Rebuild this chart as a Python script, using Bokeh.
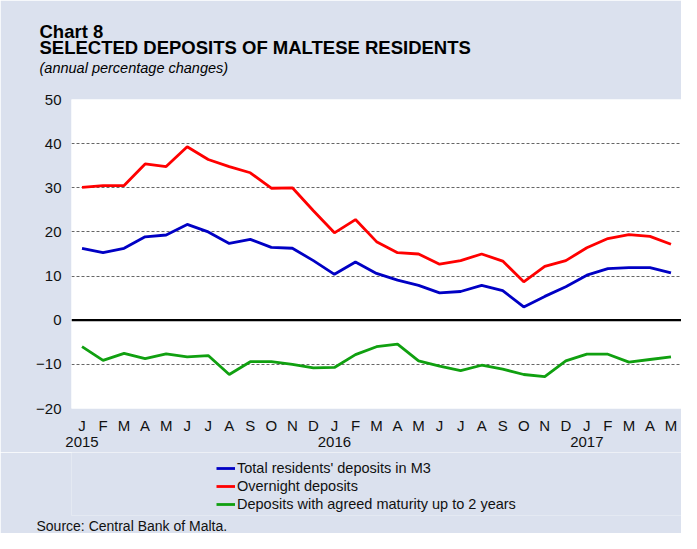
from bokeh.plotting import figure
from bokeh.layouts import column
from bokeh.models import (FixedTicker, LinearAxis, Legend, LegendItem, Span, Range1d, Title)
from bokeh.embed import file_html
from bokeh.resources import INLINE

# ---- data ----
month_labels = ["J", "F", "M", "A", "M", "J", "J", "A", "S", "O", "N", "D",
                "J", "F", "M", "A", "M", "J", "J", "A", "S", "O", "N", "D",
                "J", "F", "M", "A", "M"]
year_labels = ["2015", "2016", "2017"]
year_positions = [0, 12, 24]
total_m3 = [16.3, 15.3, 16.3, 18.9, 19.3, 21.7, 20.0, 17.4, 18.3, 16.5, 16.3, 13.5,
            10.4, 13.2, 10.6, 9.1, 7.9, 6.2, 6.5, 7.9, 6.7, 3.0, 5.4, 7.6,
            10.2, 11.7, 11.9, 11.9, 10.7]
overnight = [30.1, 30.5, 30.5, 35.4, 34.8, 39.3, 36.4, 34.8, 33.4, 29.9, 30.0, 24.8,
             19.8, 22.8, 17.8, 15.3, 15.0, 12.7, 13.5, 15.0, 13.4, 8.7, 12.2, 13.5,
             16.4, 18.5, 19.4, 19.0, 17.2]
agreed = [-6.0, -9.1, -7.5, -8.7, -7.6, -8.3, -8.0, -12.3, -9.4, -9.4, -10.0, -10.8,
          -10.7, -7.8, -6.0, -5.4, -9.2, -10.4, -11.4, -10.2, -11.1, -12.3, -12.8, -9.2,
          -7.7, -7.7, -9.5, -8.9, -8.3]
y_ticks = [-20, -10, 0, 10, 20, 30, 40, 50]
series_names = ["Total residents' deposits in M3", "Overnight deposits",
                "Deposits with agreed maturity up to 2 years"]
series_colors = ["#0000c4", "#ff0000", "#10a010"]
chart_number = "Chart 8"
chart_title = "SELECTED DEPOSITS OF MALTESE RESIDENTS"
chart_subtitle = "(annual percentage changes)"
source_note = "Source: Central Bank of Malta."

BG = "#dbe1ee"
FONT = "Liberation Sans"
TXT = "#111111"
W = 681

xs = list(range(len(month_labels)))

p = figure(width=W, height=452, output_backend="svg", toolbar_location=None, title=None,
           x_range=Range1d(-0.5, len(month_labels) - 0.5), y_range=Range1d(-20, 50),
           min_border_left=71, min_border_right=0, min_border_top=99, min_border_bottom=44)
p.background_fill_color = "white"
p.border_fill_color = BG
p.outline_line_color = None

# y axis
p.yaxis.ticker = FixedTicker(ticks=y_ticks)
p.yaxis.axis_line_color = None
p.yaxis.major_tick_line_color = None
p.yaxis.major_tick_out = 0
p.yaxis.major_tick_in = 0
p.yaxis.minor_tick_line_color = None
p.yaxis.major_label_standoff = 10
p.yaxis.major_label_text_font = FONT
p.yaxis.major_label_text_font_size = "15px"
p.yaxis.major_label_text_color = TXT

# x axis (months)
p.xaxis.ticker = FixedTicker(ticks=xs)
p.xaxis.major_label_overrides = {i: m for i, m in enumerate(month_labels)}
p.xaxis.axis_line_color = None
p.xaxis.major_tick_line_color = None
p.xaxis.major_tick_out = 0
p.xaxis.major_tick_in = 0
p.xaxis.minor_tick_line_color = None
p.xaxis.major_label_standoff = 8
p.xaxis.major_label_text_font = FONT
p.xaxis.major_label_text_font_size = "15px"
p.xaxis.major_label_text_color = TXT

# year axis
year_axis = LinearAxis(ticker=FixedTicker(ticks=year_positions),
                       major_label_overrides={pos: y for pos, y in zip(year_positions, year_labels)})
year_axis.axis_line_color = None
year_axis.major_tick_line_color = None
year_axis.major_tick_out = 0
year_axis.major_tick_in = 0
year_axis.minor_tick_line_color = None
year_axis.major_label_standoff = 0
year_axis.major_label_text_font = FONT
year_axis.major_label_text_font_size = "15px"
year_axis.major_label_text_color = TXT
p.add_layout(year_axis, "below")

# grid
p.xgrid.grid_line_color = None
p.ygrid.ticker = FixedTicker(ticks=[t for t in y_ticks if t != 0])
p.ygrid.grid_line_color = "#666666"
p.ygrid.grid_line_dash = "3 2"
p.ygrid.grid_line_width = 1

p.add_layout(Span(location=0, dimension="width", line_color="black", line_width=2.2))

for vals, col in zip([total_m3, overnight, agreed], series_colors):
    p.line(xs, vals, line_color=col, line_width=2.8)

# titles (added nearest-first): blank spacer, subtitle, title, chart number
p.add_layout(Title(text=" ", align="left", standoff=11, text_font=FONT,
                   text_font_size="10px", text_color=BG), "above")
p.add_layout(Title(text=chart_subtitle, align="left", offset=-32, standoff=0,
                   text_font=FONT, text_font_size="14.5px", text_font_style="italic",
                   text_color="black"), "above")
p.add_layout(Title(text=chart_title, align="left", offset=-32, standoff=-1,
                   text_font=FONT, text_font_size="18.5px", text_font_style="bold",
                   text_color="black"), "above")
p.add_layout(Title(text=chart_number, align="left", offset=-32, standoff=-13,
                   text_font=FONT, text_font_size="18.5px", text_font_style="bold",
                   text_color="black"), "above")

# ---- legend & source strip ----
H2 = 81
p2 = figure(width=W, height=H2, output_backend="svg", toolbar_location=None, title=None,
            x_range=p.x_range, y_range=Range1d(1000, 1001),
            x_axis_type=None, y_axis_type=None, min_border=0)
p2.background_fill_color = BG
p2.border_fill_color = BG
p2.outline_line_color = None
p2.grid.visible = False

items = []
for name, vals, col in zip(series_names, [total_m3, overnight, agreed], series_colors):
    r = p2.line(xs, vals, line_color=col, line_width=2.8)
    items.append(LegendItem(label=name, renderers=[r]))

legend = Legend(items=items, location=(145, 3), orientation="vertical")
legend.background_fill_alpha = 0
legend.border_line_color = None
legend.padding = 0
legend.margin = 0
legend.spacing = 2
legend.glyph_width = 19
legend.glyph_height = 16
legend.label_height = 16
legend.label_standoff = 2
legend.label_text_font = FONT
legend.label_text_font_size = "14.5px"
legend.label_text_color = TXT
p2.add_layout(legend)

p2.add_layout(Title(text=source_note, align="left", offset=-35, standoff=0,
                    text_font=FONT, text_font_size="14px", text_font_style="normal",
                    text_color=TXT), "below")

layout = column(p, p2, spacing=0)
open("out.html", "w").write(file_html(layout, INLINE))
